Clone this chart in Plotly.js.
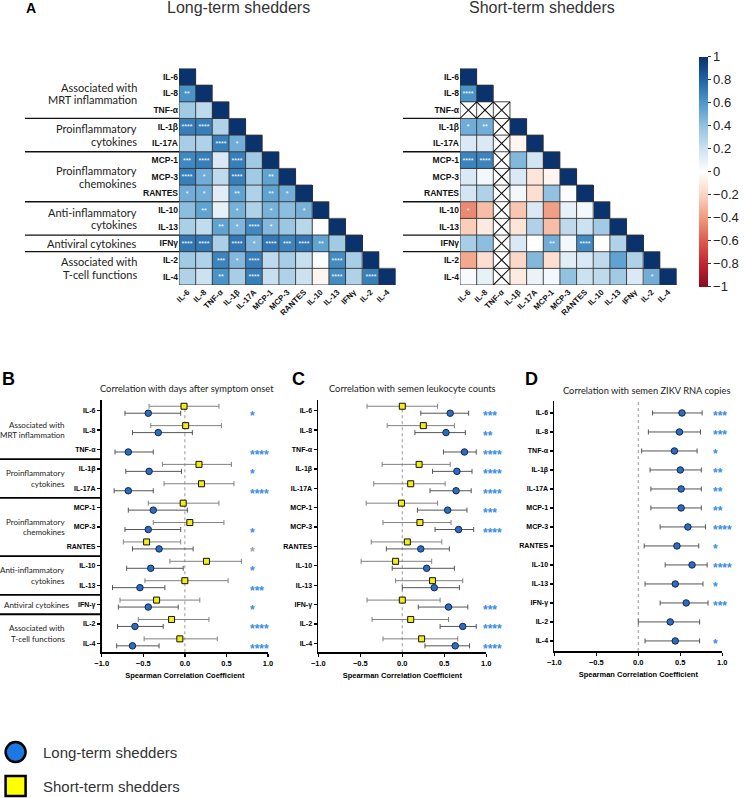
<!DOCTYPE html>
<html><head><meta charset="utf-8">
<script src="https://cdn.plot.ly/plotly-3.0.1.min.js"></script>
<style>html,body{margin:0;padding:0;background:#fff;} #chart{width:745px;height:798px;}</style>
</head><body><div id="chart"></div>
<script>
// ---------------- DATA ----------------
const seriesNames = ["Long-term shedders", "Short-term shedders"];
const heatLabels = ["IL-6","IL-8","TNF-α","IL-1β","IL-17A","MCP-1","MCP-3","RANTES","IL-10","IL-13","IFNγ","IL-2","IL-4"];
const forestLabels = ["IL-6","IL-8","TNF-α","IL-1β","IL-17A","MCP-1","MCP-3","RANTES","IL-10","IL-13","IFN-γ","IL-2","IL-4"];
const groupNames = [["Associated with","MRT inflammation"],["Proinflammatory","cytokines"],["Proinflammatory","chemokines"],["Anti-inflammatory","cytokines"],["Antiviral cytokines"],["Associated with","T-cell functions"]];
const groupSizes = [3,2,3,2,1,2];
const colorbarTicks = [-1,-0.8,-0.6,-0.4,-0.2,0,0.2,0.4,0.6,0.8,1];
const forestTicks = [-1,-0.5,0,0.5,1];

// Panel A: lower-triangular Spearman correlation matrices
const longTermCorr = [
 [1],
 [0.62,1],
 [0.35,0.25,1],
 [0.70,0.70,0.30,1],
 [0.33,0.30,0.70,0.50,1],
 [0.66,0.70,0.15,0.70,0.35,1],
 [0.70,0.50,0.25,0.70,0.35,0.55,1],
 [0.50,0.50,0.12,0.55,0.30,0.55,0.50,1],
 [0.42,0.55,0.10,0.48,0.30,0.48,0.42,0.48,1],
 [0.32,0.24,0.55,0.46,0.66,0.45,0.37,0.27,0.00,1],
 [0.72,0.72,0.32,0.72,0.46,0.72,0.68,0.72,0.55,0.35,1],
 [0.35,0.30,0.68,0.45,0.70,0.25,0.33,0.22,0.02,0.65,0.33,1],
 [0.30,0.20,0.62,0.33,0.70,0.22,0.30,0.20,-0.05,0.65,0.30,0.70,1]
];
const longTermSig = [
 [""],
 ["**",""],
 ["","",""],
 ["****","****","",""],
 ["","","****","*",""],
 ["***","****","","****","",""],
 ["****","*","","****","","**",""],
 ["*","*","","**","","**","*",""],
 ["","**","","*","","*","","*",""],
 ["","","**","*","****","*","","","",""],
 ["****","****","","****","*","****","***","****","**","",""],
 ["","","***","*","****","","","","","****","",""],
 ["","","**","","****","","","","","****","","****",""]
];
const shortTermCorr = [
 [1],
 [0.62,1],
 [null,null,null],
 [0.50,0.50,null,1],
 [0.15,0.15,null,-0.05,1],
 [0.68,0.68,null,0.45,0.18,1],
 [0.15,0.05,null,0.15,-0.12,-0.05,1],
 [0.17,0.30,null,0.05,-0.15,0.40,0.02,1],
 [-0.45,-0.28,null,-0.25,0.15,-0.38,0.10,0.05,1],
 [-0.22,-0.10,null,-0.12,0.30,-0.28,0.25,0.20,0.35,1],
 [0.33,0.42,null,0.15,0.00,0.50,0.05,0.65,0.00,0.30,1],
 [-0.35,-0.15,null,-0.18,0.45,-0.15,0.12,0.15,0.25,0.55,0.30,1],
 [0.03,0.10,null,-0.10,0.08,0.05,0.40,0.20,0.25,0.35,0.15,0.50,1]
];
const shortTermSig = [
 [""],
 ["****",""],
 ["","",""],
 ["*","**","",""],
 ["","","","",""],
 ["****","****","","","",""],
 ["","","","","","",""],
 ["","","","","","","",""],
 ["*","","","","","","","",""],
 ["","","","","","","","","",""],
 ["","","","","","**","","****","","",""],
 ["","","","","","","","","","","",""],
 ["","","","","","","","","","","","*",""]
];

// Panel B: correlation with days after symptom onset
const onsetLongR  = [-0.44,-0.32,-0.68,-0.43,-0.68,-0.38,-0.44,-0.31,-0.41,-0.54,-0.44,-0.60,-0.63];
const onsetLongLo = [-0.72,-0.63,-0.84,-0.71,-0.85,-0.68,-0.72,-0.63,-0.70,-0.87,-0.80,-0.81,-0.82];
const onsetLongHi = [-0.05,0.09,-0.38,-0.04,-0.38,0.03,-0.05,0.10,-0.02,-0.24,-0.08,-0.26,-0.31];
const onsetShortR  = [-0.01,0.01,null,0.17,0.20,-0.02,0.06,-0.46,0.26,0.00,-0.34,-0.16,-0.06];
const onsetShortLo = [-0.43,-0.41,null,-0.27,-0.25,-0.44,-0.38,-0.74,-0.18,-0.48,-0.78,-0.56,-0.49];
const onsetShortHi = [0.41,0.44,null,0.56,0.59,0.41,0.47,-0.05,0.68,0.52,0.18,0.29,0.39];
const onsetStars = ["*","","****","*","****","","*","*","*","***","*","****","****"];
const onsetTrend = [false,false,false,false,false,false,false,true,false,false,false,false,false];

// Panel C: correlation with semen leukocyte counts
const leukoLongR  = [0.57,0.52,0.74,0.65,0.64,0.54,0.67,0.22,0.29,0.38,0.55,0.72,0.63];
const leukoLongLo = [0.22,0.15,0.49,0.36,0.33,0.18,0.39,-0.19,-0.12,0.00,0.19,0.45,0.27];
const leukoLongHi = [0.79,0.75,0.88,0.83,0.82,0.77,0.85,0.56,0.62,0.68,0.78,0.88,0.80];
const leukoShortR  = [0.00,0.25,null,0.20,0.10,-0.01,0.21,0.06,-0.08,0.36,0.00,0.10,0.23];
const leukoShortLo = [-0.42,-0.18,null,-0.24,-0.34,-0.43,-0.23,-0.37,-0.49,-0.08,-0.42,-0.36,-0.23];
const leukoShortHi = [0.42,0.62,null,0.57,0.51,0.42,0.58,0.47,0.35,0.72,0.45,0.55,0.66];
const leukoStars = ["***","**","****","****","****","***","****","","","","***","****","****"];

// Panel D: correlation with semen ZIKV RNA copies
const rnaLongR  = [0.52,0.49,0.43,0.50,0.51,0.51,0.59,0.46,0.64,0.44,0.57,0.38,0.44];
const rnaLongLo = [0.17,0.12,0.04,0.14,0.15,0.15,0.26,0.07,0.32,0.08,0.26,0.00,0.08];
const rnaLongHi = [0.76,0.74,0.70,0.75,0.75,0.75,0.80,0.72,0.82,0.77,0.83,0.73,0.73];
const rnaStars = ["***","***","*","**","**","**","****","*","****","*","***","","*"];

const panelTitles = ["Correlation with days after symptom onset","Correlation with semen leukocyte counts","Correlation with semen ZIKV RNA copies"];
const xAxisTitle = "Spearman Correlation Coefficient";

// ---------------- BUILD ----------------
const W = 745, H = 798;
const px = v => v / W, py = v => 1 - v / H;
const N = heatLabels.length;
const idx = heatLabels.map((_, i) => i);
const ARIAL = "Liberation Sans, Arial, sans-serif";
const CALIBRI = "Lato, Open Sans, sans-serif";

const fullMatrix = rows => idx.map(i => idx.map(j => (j <= i && rows[i][j] !== undefined) ? rows[i][j] : null));
const fullText = rows => idx.map(i => idx.map(j => (j <= i && rows[i][j]) ? rows[i][j] : ""));

const traces = [];
function heat(rows, sig, xa, ya) {
  traces.push({type:'heatmap', z: fullMatrix(rows), x: idx, y: idx, text: fullText(sig),
    texttemplate:'%{text}', textfont:{color:'#ffffff', size:7, family:ARIAL},
    coloraxis:'coloraxis', xaxis:xa, yaxis:ya, hoverinfo:'skip', zsmooth:false});
  // cell borders
  const xs = [], ys = [];
  for (let i = 0; i < N; i++) { xs.push(-0.5, i + 0.5, null); ys.push(i - 0.5, i - 0.5, null); }
  xs.push(-0.5, N - 0.5, null); ys.push(N - 0.5, N - 0.5, null);
  xs.push(-0.5, -0.5, null); ys.push(-0.5, N - 0.5, null);
  for (let j = 0; j < N; j++) { xs.push(j + 0.5, j + 0.5, null); ys.push(j - 0.5, N - 0.5, null); }
  traces.push({type:'scatter', mode:'lines', x:xs, y:ys, xaxis:xa, yaxis:ya,
    line:{color:'#333', width:0.9}, hoverinfo:'skip', showlegend:false});
  // crossed boxes for missing values
  const cx = [], cy = [];
  idx.forEach(i => idx.forEach(j => {
    if (j <= i && rows[i][j] === null) {
      cx.push(j - 0.5, j + 0.5, null, j - 0.5, j + 0.5, null);
      cy.push(i - 0.5, i + 0.5, null, i + 0.5, i - 0.5, null);
    }
  }));
  if (cx.length) traces.push({type:'scatter', mode:'lines', x:cx, y:cy, xaxis:xa, yaxis:ya,
    line:{color:'#111', width:1.1}, hoverinfo:'skip', showlegend:false});
}
heat(longTermCorr, longTermSig, 'x', 'y');
heat(shortTermCorr, shortTermSig, 'x2', 'y2');

const blueStyle = {marker:{symbol:'circle', size:6.5, color:'#2e6cbf', line:{color:'#10284f', width:1}}, err:'#555'};
const yellowStyle = {marker:{symbol:'square', size:6, color:'#f3ef14', line:{color:'#111', width:1}}, err:'#808080'};
function forest(ax, r, lo, hi, offset, style) {
  traces.push({type:'scatter', mode:'markers', x:r, y:idx.map(i => i + offset),
    xaxis:'x' + ax, yaxis:'y' + ax, marker:style.marker,
    error_x:{type:'data', symmetric:false,
      array:r.map((v, i) => v === null ? null : hi[i] - v),
      arrayminus:r.map((v, i) => v === null ? null : v - lo[i]),
      color:style.err, thickness:1, width:2.5},
    hoverinfo:'skip', showlegend:false, cliponaxis:false});
}
const SHORT_OFF = -0.23, LONG_OFF = 0.13;
forest('3', onsetShortR, onsetShortLo, onsetShortHi, SHORT_OFF, yellowStyle);
forest('3', onsetLongR, onsetLongLo, onsetLongHi, LONG_OFF, blueStyle);
forest('4', leukoShortR, leukoShortLo, leukoShortHi, SHORT_OFF, yellowStyle);
forest('4', leukoLongR, leukoLongLo, leukoLongHi, LONG_OFF, blueStyle);
forest('5', rnaLongR, rnaLongLo, rnaLongHi, 0, blueStyle);

// legend symbols
traces.push({type:'scatter', mode:'markers', x:[0], y:[1], xaxis:'x6', yaxis:'y6',
  marker:{symbol:'circle', size:20, color:'#1c79e2', line:{color:'#000', width:2.5}}, hoverinfo:'skip', showlegend:false, cliponaxis:false});
traces.push({type:'scatter', mode:'markers', x:[0], y:[0], xaxis:'x6', yaxis:'y6',
  marker:{symbol:'square', size:20, color:'#ffff00', line:{color:'#000', width:2.5}}, hoverinfo:'skip', showlegend:false, cliponaxis:false});

// ---------------- LAYOUT ----------------
const hmX = (domain, anchor) => ({domain, anchor, range:[-0.5, N - 0.5], tickmode:'array', tickvals:idx, ticktext:heatLabels,
  tickangle:-45, showgrid:false, zeroline:false, showline:false, ticks:'',
  tickfont:{family:ARIAL, size:8, color:'#111', weight:'bold'}, fixedrange:true});
const hmY = (domain, anchor) => ({domain, anchor, range:[N - 0.5, -0.5], tickmode:'array', tickvals:idx, ticktext:heatLabels,
  showgrid:false, zeroline:false, showline:false, ticks:'',
  tickfont:{family:ARIAL, size:8.5, color:'#111', weight:'bold'}, fixedrange:true});
const fX = (domain, anchor) => ({domain, anchor, range:[-1, 1], tickmode:'array', tickvals:forestTicks, tickformat:'.1f',
  ticks:'outside', ticklen:3, tickwidth:1.3, tickcolor:'#000', showline:true, linewidth:1.8, linecolor:'#000',
  showgrid:false, zeroline:false, tickfont:{family:ARIAL, size:7.5, color:'#000', weight:'bold'},
  title:{text:xAxisTitle, font:{family:ARIAL, size:7.5, color:'#000', weight:'bold'}, standoff:6}, fixedrange:true});
const fY = (domain, anchor, range) => ({domain, anchor, range, tickmode:'array', tickvals:idx, ticktext:forestLabels,
  ticks:'outside', ticklen:3, tickwidth:1.3, tickcolor:'#000', showline:true, linewidth:1.8, linecolor:'#000',
  showgrid:false, zeroline:false, tickfont:{family:ARIAL, size:7, color:'#000', weight:'bold'}, fixedrange:true});

const hmTop = 68.5, hmBottom = 285;
const fTop = 400, fBottom = 652.3;
const layout = {
  width: W, height: H, margin:{l:0, r:0, t:0, b:0}, paper_bgcolor:'#fff', plot_bgcolor:'rgba(0,0,0,0)',
  showlegend:false, hovermode:false, font:{family:ARIAL, color:'#222'},
  xaxis: hmX([px(179), px(395.5)], 'y'),
  yaxis: hmY([py(hmBottom), py(hmTop)], 'x'),
  xaxis2: hmX([px(460), px(676.5)], 'y2'),
  yaxis2: hmY([py(hmBottom), py(hmTop)], 'x2'),
  xaxis3: fX([px(101.7), px(268)], 'y3'),
  yaxis3: fY([py(fBottom), py(fTop)], 'x3', [12.464, -0.552]),
  xaxis4: fX([px(318.3), px(486.3)], 'y4'),
  yaxis4: fY([py(fBottom), py(fTop)], 'x4', [12.464, -0.552]),
  xaxis5: fX([px(554.3), px(722.3)], 'y5'),
  yaxis5: fY([py(651), py(401)], 'x5', [12.53, -0.63]),
  xaxis6: {domain:[0, px(300)], anchor:'y6', range:[-0.52, 9.48], visible:false, fixedrange:true},
  yaxis6: {domain:[0, 68 / H], anchor:'x6', range:[-0.35, 1.65], visible:false, fixedrange:true},
  coloraxis: {cmin:-1, cmax:1,
    colorscale:[[0,'#8b0a1f'],[0.1,'#c0262f'],[0.2,'#dd5b4d'],[0.3,'#f09a7e'],[0.4,'#fbd4c2'],[0.5,'#ffffff'],
                [0.6,'#cde2f1'],[0.7,'#93c2e1'],[0.8,'#4f98cb'],[0.9,'#2163a6'],[1,'#0a336e']],
    colorbar:{x:px(699), xanchor:'left', xref:'paper', y:py(171.8), yanchor:'middle', yref:'paper',
      len:230, lenmode:'pixels', thickness:9, thicknessmode:'pixels', outlinewidth:0, xpad:0, ypad:0,
      tickmode:'array', tickvals:colorbarTicks, ticks:'outside', ticklen:3, tickcolor:'#333',
      tickfont:{family:ARIAL, size:13, color:'#222'}}},
  annotations: [], shapes: []
};
const ann = layout.annotations, shp = layout.shapes;

// panel letters and titles
[["A",24,8,14],["B",0,378.5,18],["C",290,379,18],["D",523,379,18]].forEach(([t,x,y,s]) =>
  ann.push({text:t, xref:'paper', yref:'paper', x:px(x), y:py(y), xanchor:'left', yanchor:'middle', showarrow:false,
    font:{family:ARIAL, size:s, color:'#000', weight:'bold'}}));
[[seriesNames[0],238.7],[seriesNames[1],541.5]].forEach(([t,x]) =>
  ann.push({text:t, xref:'paper', yref:'paper', x:px(x), y:py(7), xanchor:'center', yanchor:'middle', showarrow:false,
    font:{family:ARIAL, size:16, color:'#333'}}));
[[panelTitles[0],187,388],[panelTitles[1],412,388],[panelTitles[2],646,390]].forEach(([t,x,y]) =>
  ann.push({text:t, xref:'paper', yref:'paper', x:px(x), y:py(y), xanchor:'center', yanchor:'middle', showarrow:false,
    font:{family:CALIBRI, size:9.3, color:'#222'}}));

// group labels & separators
let start = 0;
const boundaries = [];
groupNames.forEach((lines, g) => {
  const center = start + (groupSizes[g] - 1) / 2;
  lines.forEach((ln, k) => {
    const off = (k - (lines.length - 1) / 2);
    ann.push({text:ln, xref:'paper', yref:'y', x:px(138.5), y:center, yshift:-off * 12.7, xanchor:'right', yanchor:'middle',
      showarrow:false, font:{family:CALIBRI, size:11, color:'#222'}});
    ann.push({text:ln, xref:'paper', yref:'y3', x:px(lines.length === 1 ? 72 : 67), y:center, yshift:-off * 10.6, xanchor:'right', yanchor:'middle',
      showarrow:false, font:{family:CALIBRI, size:8, color:'#222'}});
  });
  start += groupSizes[g];
  if (g < groupNames.length - 1) boundaries.push(start - 0.5);
});
boundaries.forEach(b => {
  shp.push({type:'line', xref:'paper', yref:'y', x0:px(25), x1:px(179), y0:b, y1:b, line:{color:'#111', width:1.3}});
  shp.push({type:'line', xref:'paper', yref:'y2', x0:px(403), x1:px(460), y0:b, y1:b, line:{color:'#111', width:1.3}});
  shp.push({type:'line', xref:'paper', yref:'y3', x0:0, x1:px(101.7), y0:b, y1:b, line:{color:'#000', width:1.8}});
});

// zero reference lines
['3','4','5'].forEach(a => shp.push({type:'line', xref:'x' + a, yref:'y' + a + ' domain', x0:0, x1:0, y0:0, y1:1,
  layer:'below', line:{color:'#a8a8a8', width:1.2, dash:'dot'}}));

// significance stars
function stars(ax, list, offset, xpos, trend) {
  list.forEach((s, i) => {
    if (!s) return;
    ann.push({text:s, xref:'x' + ax, yref:'y' + ax, x:xpos, y:i + offset, xanchor:'left', yanchor:'middle', yshift:-3,
      showarrow:false, font:{family:ARIAL, size:12, color:(trend && trend[i]) ? '#a0a0a0' : '#3a8de4', weight:'bold'}});
  });
}
stars('3', onsetStars, LONG_OFF, 0.76, onsetTrend);
stars('4', leukoStars, LONG_OFF, 0.94);
stars('5', rnaStars, 0, 0.86);

// legend text
seriesNames.forEach((n, k) => ann.push({text:n, xref:'x6', yref:'y6', x:0.83, y:1 - k, xanchor:'left', yanchor:'middle',
  showarrow:false, font:{family:ARIAL, size:15, color:'#333'}}));

Plotly.newPlot('chart', traces, layout, {staticPlot:true, displayModeBar:false});
</script>
</body></html>
